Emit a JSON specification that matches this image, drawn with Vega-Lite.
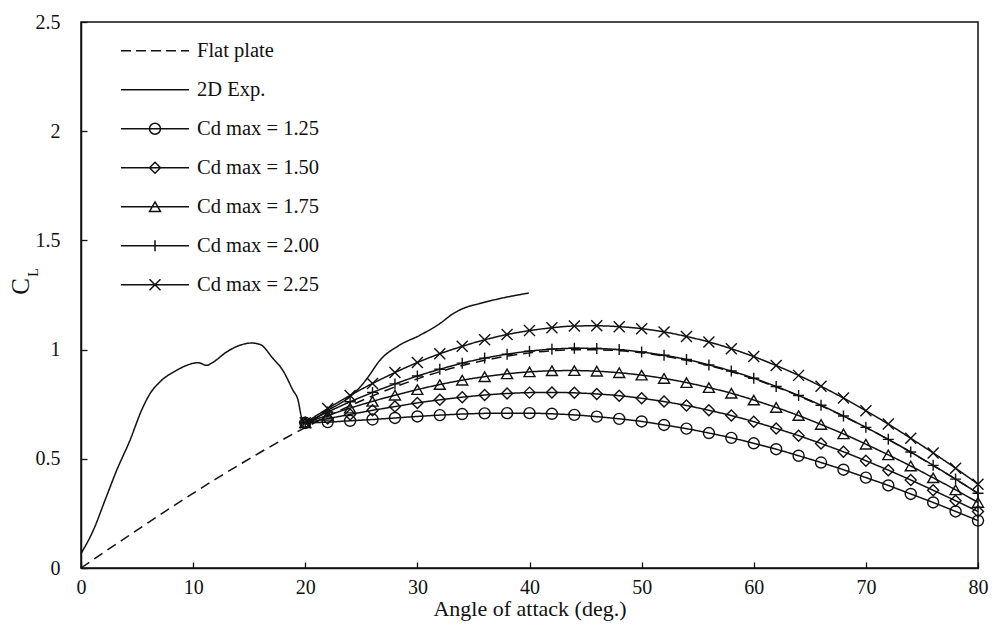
{
  "$schema": "https://vega.github.io/schema/vega-lite/v6.json",
  "width": 897,
  "height": 546,
  "autosize": {"type": "none"},
  "padding": {"left": 81, "top": 22, "right": 14, "bottom": 66},
  "background": "white",
  "config": {
    "font": "Liberation Serif",
    "view": {"stroke": "#111", "strokeWidth": 1.5},
    "axis": {
      "grid": false,
      "domainColor": "#111",
      "domainWidth": 1.5,
      "tickColor": "#111",
      "tickWidth": 1.3,
      "tickSize": -6,
      "labelFont": "Liberation Serif",
      "labelFontSize": 20,
      "labelColor": "#111",
      "titleFont": "Liberation Serif",
      "titleFontWeight": "normal",
      "titleColor": "#111"
    }
  },
  "datasets": {
    "curves": [
      {"series": "Flat plate", "aoa": 0, "cl": 0},
      {"series": "Flat plate", "aoa": 2, "cl": 0.07},
      {"series": "Flat plate", "aoa": 4, "cl": 0.139},
      {"series": "Flat plate", "aoa": 6, "cl": 0.208},
      {"series": "Flat plate", "aoa": 8, "cl": 0.276},
      {"series": "Flat plate", "aoa": 10, "cl": 0.342},
      {"series": "Flat plate", "aoa": 12, "cl": 0.407},
      {"series": "Flat plate", "aoa": 14, "cl": 0.469},
      {"series": "Flat plate", "aoa": 16, "cl": 0.53},
      {"series": "Flat plate", "aoa": 18, "cl": 0.588},
      {"series": "Flat plate", "aoa": 20, "cl": 0.643},
      {"series": "Flat plate", "aoa": 22, "cl": 0.695},
      {"series": "Flat plate", "aoa": 24, "cl": 0.743},
      {"series": "Flat plate", "aoa": 26, "cl": 0.788},
      {"series": "Flat plate", "aoa": 28, "cl": 0.829},
      {"series": "Flat plate", "aoa": 30, "cl": 0.866},
      {"series": "Flat plate", "aoa": 32, "cl": 0.899},
      {"series": "Flat plate", "aoa": 34, "cl": 0.927},
      {"series": "Flat plate", "aoa": 36, "cl": 0.951},
      {"series": "Flat plate", "aoa": 38, "cl": 0.97},
      {"series": "Flat plate", "aoa": 40, "cl": 0.985},
      {"series": "Flat plate", "aoa": 42, "cl": 0.995},
      {"series": "Flat plate", "aoa": 44, "cl": 0.999},
      {"series": "Flat plate", "aoa": 46, "cl": 0.999},
      {"series": "Flat plate", "aoa": 48, "cl": 0.995},
      {"series": "Flat plate", "aoa": 50, "cl": 0.985},
      {"series": "Flat plate", "aoa": 52, "cl": 0.97},
      {"series": "Flat plate", "aoa": 54, "cl": 0.951},
      {"series": "Flat plate", "aoa": 56, "cl": 0.927},
      {"series": "Flat plate", "aoa": 58, "cl": 0.899},
      {"series": "Flat plate", "aoa": 60, "cl": 0.866},
      {"series": "Flat plate", "aoa": 62, "cl": 0.829},
      {"series": "Flat plate", "aoa": 64, "cl": 0.788},
      {"series": "Flat plate", "aoa": 66, "cl": 0.743},
      {"series": "Flat plate", "aoa": 68, "cl": 0.695},
      {"series": "Flat plate", "aoa": 70, "cl": 0.643},
      {"series": "Flat plate", "aoa": 72, "cl": 0.588},
      {"series": "Flat plate", "aoa": 74, "cl": 0.53},
      {"series": "Flat plate", "aoa": 76, "cl": 0.469},
      {"series": "Flat plate", "aoa": 78, "cl": 0.407},
      {"series": "Flat plate", "aoa": 80, "cl": 0.342},

      {"series": "2D Exp.", "aoa": 0, "cl": 0.066},
      {"series": "2D Exp.", "aoa": 1.1, "cl": 0.173},
      {"series": "2D Exp.", "aoa": 2.14, "cl": 0.31},
      {"series": "2D Exp.", "aoa": 3.18, "cl": 0.447},
      {"series": "2D Exp.", "aoa": 4.37, "cl": 0.585},
      {"series": "2D Exp.", "aoa": 5.4, "cl": 0.722},
      {"series": "2D Exp.", "aoa": 6.15, "cl": 0.798},
      {"series": "2D Exp.", "aoa": 7.04, "cl": 0.852},
      {"series": "2D Exp.", "aoa": 8.52, "cl": 0.905},
      {"series": "2D Exp.", "aoa": 10.0, "cl": 0.937},
      {"series": "2D Exp.", "aoa": 10.45, "cl": 0.94},
      {"series": "2D Exp.", "aoa": 11.2, "cl": 0.928},
      {"series": "2D Exp.", "aoa": 11.8, "cl": 0.943},
      {"series": "2D Exp.", "aoa": 12.98, "cl": 0.989},
      {"series": "2D Exp.", "aoa": 14.17, "cl": 1.02},
      {"series": "2D Exp.", "aoa": 15.2, "cl": 1.03},
      {"series": "2D Exp.", "aoa": 15.95, "cl": 1.024},
      {"series": "2D Exp.", "aoa": 17.13, "cl": 0.959},
      {"series": "2D Exp.", "aoa": 18.0, "cl": 0.905},
      {"series": "2D Exp.", "aoa": 18.9, "cl": 0.814},
      {"series": "2D Exp.", "aoa": 19.36, "cl": 0.768},
      {"series": "2D Exp.", "aoa": 19.66, "cl": 0.691},
      {"series": "2D Exp.", "aoa": 19.85, "cl": 0.662},
      {"series": "2D Exp.", "aoa": 22, "cl": 0.722},
      {"series": "2D Exp.", "aoa": 24, "cl": 0.785},
      {"series": "2D Exp.", "aoa": 25.15, "cl": 0.844},
      {"series": "2D Exp.", "aoa": 25.6, "cl": 0.874},
      {"series": "2D Exp.", "aoa": 26.66, "cl": 0.951},
      {"series": "2D Exp.", "aoa": 28.4, "cl": 1.02},
      {"series": "2D Exp.", "aoa": 30.2, "cl": 1.065},
      {"series": "2D Exp.", "aoa": 32.0, "cl": 1.119},
      {"series": "2D Exp.", "aoa": 33.2, "cl": 1.165},
      {"series": "2D Exp.", "aoa": 34.06, "cl": 1.188},
      {"series": "2D Exp.", "aoa": 35.5, "cl": 1.21},
      {"series": "2D Exp.", "aoa": 37.3, "cl": 1.233},
      {"series": "2D Exp.", "aoa": 39.94, "cl": 1.259},

      {"series": "Cd max = 1.25", "aoa": 20, "cl": 0.665},
      {"series": "Cd max = 1.25", "aoa": 22, "cl": 0.668},
      {"series": "Cd max = 1.25", "aoa": 24, "cl": 0.674},
      {"series": "Cd max = 1.25", "aoa": 26, "cl": 0.68},
      {"series": "Cd max = 1.25", "aoa": 28, "cl": 0.687},
      {"series": "Cd max = 1.25", "aoa": 30, "cl": 0.694},
      {"series": "Cd max = 1.25", "aoa": 32, "cl": 0.7},
      {"series": "Cd max = 1.25", "aoa": 34, "cl": 0.705},
      {"series": "Cd max = 1.25", "aoa": 36, "cl": 0.708},
      {"series": "Cd max = 1.25", "aoa": 38, "cl": 0.709},
      {"series": "Cd max = 1.25", "aoa": 40, "cl": 0.709},
      {"series": "Cd max = 1.25", "aoa": 42, "cl": 0.706},
      {"series": "Cd max = 1.25", "aoa": 44, "cl": 0.701},
      {"series": "Cd max = 1.25", "aoa": 46, "cl": 0.693},
      {"series": "Cd max = 1.25", "aoa": 48, "cl": 0.683},
      {"series": "Cd max = 1.25", "aoa": 50, "cl": 0.671},
      {"series": "Cd max = 1.25", "aoa": 52, "cl": 0.655},
      {"series": "Cd max = 1.25", "aoa": 54, "cl": 0.638},
      {"series": "Cd max = 1.25", "aoa": 56, "cl": 0.618},
      {"series": "Cd max = 1.25", "aoa": 58, "cl": 0.596},
      {"series": "Cd max = 1.25", "aoa": 60, "cl": 0.571},
      {"series": "Cd max = 1.25", "aoa": 62, "cl": 0.544},
      {"series": "Cd max = 1.25", "aoa": 64, "cl": 0.514},
      {"series": "Cd max = 1.25", "aoa": 66, "cl": 0.483},
      {"series": "Cd max = 1.25", "aoa": 68, "cl": 0.45},
      {"series": "Cd max = 1.25", "aoa": 70, "cl": 0.414},
      {"series": "Cd max = 1.25", "aoa": 72, "cl": 0.378},
      {"series": "Cd max = 1.25", "aoa": 74, "cl": 0.339},
      {"series": "Cd max = 1.25", "aoa": 76, "cl": 0.3},
      {"series": "Cd max = 1.25", "aoa": 78, "cl": 0.259},
      {"series": "Cd max = 1.25", "aoa": 80, "cl": 0.217},

      {"series": "Cd max = 1.50", "aoa": 20, "cl": 0.665},
      {"series": "Cd max = 1.50", "aoa": 22, "cl": 0.684},
      {"series": "Cd max = 1.50", "aoa": 24, "cl": 0.703},
      {"series": "Cd max = 1.50", "aoa": 26, "cl": 0.722},
      {"series": "Cd max = 1.50", "aoa": 28, "cl": 0.739},
      {"series": "Cd max = 1.50", "aoa": 30, "cl": 0.756},
      {"series": "Cd max = 1.50", "aoa": 32, "cl": 0.77},
      {"series": "Cd max = 1.50", "aoa": 34, "cl": 0.782},
      {"series": "Cd max = 1.50", "aoa": 36, "cl": 0.792},
      {"series": "Cd max = 1.50", "aoa": 38, "cl": 0.799},
      {"series": "Cd max = 1.50", "aoa": 40, "cl": 0.803},
      {"series": "Cd max = 1.50", "aoa": 42, "cl": 0.804},
      {"series": "Cd max = 1.50", "aoa": 44, "cl": 0.802},
      {"series": "Cd max = 1.50", "aoa": 46, "cl": 0.797},
      {"series": "Cd max = 1.50", "aoa": 48, "cl": 0.789},
      {"series": "Cd max = 1.50", "aoa": 50, "cl": 0.777},
      {"series": "Cd max = 1.50", "aoa": 52, "cl": 0.762},
      {"series": "Cd max = 1.50", "aoa": 54, "cl": 0.744},
      {"series": "Cd max = 1.50", "aoa": 56, "cl": 0.722},
      {"series": "Cd max = 1.50", "aoa": 58, "cl": 0.698},
      {"series": "Cd max = 1.50", "aoa": 60, "cl": 0.67},
      {"series": "Cd max = 1.50", "aoa": 62, "cl": 0.639},
      {"series": "Cd max = 1.50", "aoa": 64, "cl": 0.606},
      {"series": "Cd max = 1.50", "aoa": 66, "cl": 0.57},
      {"series": "Cd max = 1.50", "aoa": 68, "cl": 0.532},
      {"series": "Cd max = 1.50", "aoa": 70, "cl": 0.491},
      {"series": "Cd max = 1.50", "aoa": 72, "cl": 0.448},
      {"series": "Cd max = 1.50", "aoa": 74, "cl": 0.403},
      {"series": "Cd max = 1.50", "aoa": 76, "cl": 0.356},
      {"series": "Cd max = 1.50", "aoa": 78, "cl": 0.308},
      {"series": "Cd max = 1.50", "aoa": 80, "cl": 0.259},

      {"series": "Cd max = 1.75", "aoa": 20, "cl": 0.665},
      {"series": "Cd max = 1.75", "aoa": 22, "cl": 0.699},
      {"series": "Cd max = 1.75", "aoa": 24, "cl": 0.732},
      {"series": "Cd max = 1.75", "aoa": 26, "cl": 0.763},
      {"series": "Cd max = 1.75", "aoa": 28, "cl": 0.791},
      {"series": "Cd max = 1.75", "aoa": 30, "cl": 0.817},
      {"series": "Cd max = 1.75", "aoa": 32, "cl": 0.84},
      {"series": "Cd max = 1.75", "aoa": 34, "cl": 0.86},
      {"series": "Cd max = 1.75", "aoa": 36, "cl": 0.876},
      {"series": "Cd max = 1.75", "aoa": 38, "cl": 0.889},
      {"series": "Cd max = 1.75", "aoa": 40, "cl": 0.898},
      {"series": "Cd max = 1.75", "aoa": 42, "cl": 0.903},
      {"series": "Cd max = 1.75", "aoa": 44, "cl": 0.904},
      {"series": "Cd max = 1.75", "aoa": 46, "cl": 0.901},
      {"series": "Cd max = 1.75", "aoa": 48, "cl": 0.894},
      {"series": "Cd max = 1.75", "aoa": 50, "cl": 0.883},
      {"series": "Cd max = 1.75", "aoa": 52, "cl": 0.868},
      {"series": "Cd max = 1.75", "aoa": 54, "cl": 0.849},
      {"series": "Cd max = 1.75", "aoa": 56, "cl": 0.826},
      {"series": "Cd max = 1.75", "aoa": 58, "cl": 0.8},
      {"series": "Cd max = 1.75", "aoa": 60, "cl": 0.769},
      {"series": "Cd max = 1.75", "aoa": 62, "cl": 0.735},
      {"series": "Cd max = 1.75", "aoa": 64, "cl": 0.698},
      {"series": "Cd max = 1.75", "aoa": 66, "cl": 0.657},
      {"series": "Cd max = 1.75", "aoa": 68, "cl": 0.614},
      {"series": "Cd max = 1.75", "aoa": 70, "cl": 0.567},
      {"series": "Cd max = 1.75", "aoa": 72, "cl": 0.518},
      {"series": "Cd max = 1.75", "aoa": 74, "cl": 0.467},
      {"series": "Cd max = 1.75", "aoa": 76, "cl": 0.413},
      {"series": "Cd max = 1.75", "aoa": 78, "cl": 0.358},
      {"series": "Cd max = 1.75", "aoa": 80, "cl": 0.3},

      {"series": "Cd max = 2.00", "aoa": 20, "cl": 0.665},
      {"series": "Cd max = 2.00", "aoa": 22, "cl": 0.714},
      {"series": "Cd max = 2.00", "aoa": 24, "cl": 0.761},
      {"series": "Cd max = 2.00", "aoa": 26, "cl": 0.804},
      {"series": "Cd max = 2.00", "aoa": 28, "cl": 0.843},
      {"series": "Cd max = 2.00", "aoa": 30, "cl": 0.879},
      {"series": "Cd max = 2.00", "aoa": 32, "cl": 0.91},
      {"series": "Cd max = 2.00", "aoa": 34, "cl": 0.938},
      {"series": "Cd max = 2.00", "aoa": 36, "cl": 0.961},
      {"series": "Cd max = 2.00", "aoa": 38, "cl": 0.979},
      {"series": "Cd max = 2.00", "aoa": 40, "cl": 0.993},
      {"series": "Cd max = 2.00", "aoa": 42, "cl": 1.002},
      {"series": "Cd max = 2.00", "aoa": 44, "cl": 1.006},
      {"series": "Cd max = 2.00", "aoa": 46, "cl": 1.005},
      {"series": "Cd max = 2.00", "aoa": 48, "cl": 1.0},
      {"series": "Cd max = 2.00", "aoa": 50, "cl": 0.989},
      {"series": "Cd max = 2.00", "aoa": 52, "cl": 0.974},
      {"series": "Cd max = 2.00", "aoa": 54, "cl": 0.955},
      {"series": "Cd max = 2.00", "aoa": 56, "cl": 0.93},
      {"series": "Cd max = 2.00", "aoa": 58, "cl": 0.902},
      {"series": "Cd max = 2.00", "aoa": 60, "cl": 0.869},
      {"series": "Cd max = 2.00", "aoa": 62, "cl": 0.831},
      {"series": "Cd max = 2.00", "aoa": 64, "cl": 0.79},
      {"series": "Cd max = 2.00", "aoa": 66, "cl": 0.745},
      {"series": "Cd max = 2.00", "aoa": 68, "cl": 0.696},
      {"series": "Cd max = 2.00", "aoa": 70, "cl": 0.644},
      {"series": "Cd max = 2.00", "aoa": 72, "cl": 0.589},
      {"series": "Cd max = 2.00", "aoa": 74, "cl": 0.531},
      {"series": "Cd max = 2.00", "aoa": 76, "cl": 0.47},
      {"series": "Cd max = 2.00", "aoa": 78, "cl": 0.407},
      {"series": "Cd max = 2.00", "aoa": 80, "cl": 0.342},

      {"series": "Cd max = 2.25", "aoa": 20, "cl": 0.665},
      {"series": "Cd max = 2.25", "aoa": 22, "cl": 0.73},
      {"series": "Cd max = 2.25", "aoa": 24, "cl": 0.79},
      {"series": "Cd max = 2.25", "aoa": 26, "cl": 0.845},
      {"series": "Cd max = 2.25", "aoa": 28, "cl": 0.895},
      {"series": "Cd max = 2.25", "aoa": 30, "cl": 0.941},
      {"series": "Cd max = 2.25", "aoa": 32, "cl": 0.981},
      {"series": "Cd max = 2.25", "aoa": 34, "cl": 1.015},
      {"series": "Cd max = 2.25", "aoa": 36, "cl": 1.045},
      {"series": "Cd max = 2.25", "aoa": 38, "cl": 1.069},
      {"series": "Cd max = 2.25", "aoa": 40, "cl": 1.087},
      {"series": "Cd max = 2.25", "aoa": 42, "cl": 1.1},
      {"series": "Cd max = 2.25", "aoa": 44, "cl": 1.108},
      {"series": "Cd max = 2.25", "aoa": 46, "cl": 1.109},
      {"series": "Cd max = 2.25", "aoa": 48, "cl": 1.105},
      {"series": "Cd max = 2.25", "aoa": 50, "cl": 1.096},
      {"series": "Cd max = 2.25", "aoa": 52, "cl": 1.081},
      {"series": "Cd max = 2.25", "aoa": 54, "cl": 1.06},
      {"series": "Cd max = 2.25", "aoa": 56, "cl": 1.035},
      {"series": "Cd max = 2.25", "aoa": 58, "cl": 1.004},
      {"series": "Cd max = 2.25", "aoa": 60, "cl": 0.968},
      {"series": "Cd max = 2.25", "aoa": 62, "cl": 0.927},
      {"series": "Cd max = 2.25", "aoa": 64, "cl": 0.882},
      {"series": "Cd max = 2.25", "aoa": 66, "cl": 0.832},
      {"series": "Cd max = 2.25", "aoa": 68, "cl": 0.778},
      {"series": "Cd max = 2.25", "aoa": 70, "cl": 0.72},
      {"series": "Cd max = 2.25", "aoa": 72, "cl": 0.659},
      {"series": "Cd max = 2.25", "aoa": 74, "cl": 0.594},
      {"series": "Cd max = 2.25", "aoa": 76, "cl": 0.527},
      {"series": "Cd max = 2.25", "aoa": 78, "cl": 0.457},
      {"series": "Cd max = 2.25", "aoa": 80, "cl": 0.384}
    ]
  },
  "data": {"name": "curves"},
  "layer": [
    {
      "mark": {"type": "line", "color": "#111", "strokeWidth": 1.5, "interpolate": "monotone"},
      "encoding": {
        "x": {
          "field": "aoa",
          "type": "quantitative",
          "scale": {"domain": [0, 80], "nice": false},
          "axis": {
            "values": [0, 10, 20, 30, 40, 50, 60, 70, 80],
            "format": "d",
            "labelFlush": false,
            "labelPadding": 15,
            "title": "Angle of attack (deg.)",
            "titleFontSize": 22,
            "titleY": 47,
            "titleBaseline": "alphabetic"
          }
        },
        "y": {
          "field": "cl",
          "type": "quantitative",
          "scale": {"domain": [0, 2.5], "nice": false},
          "axis": {
            "orient": "left",
            "values": [0, 0.5, 1, 1.5, 2, 2.5],
            "format": "~g",
            "labelPadding": 27,
            "title": "C",
            "titleFontSize": 25,
            "titleAngle": -90,
            "titleAlign": "center",
            "titleBaseline": "middle",
            "titleX": -61,
            "titleY": 264
          }
        },
        "strokeDash": {
          "field": "series",
          "type": "nominal",
          "scale": {
            "domain": ["Flat plate", "2D Exp.", "Cd max = 1.25", "Cd max = 1.50", "Cd max = 1.75", "Cd max = 2.00", "Cd max = 2.25"],
            "range": [[10, 6], [1, 0], [1, 0], [1, 0], [1, 0], [1, 0], [1, 0]]
          },
          "legend": null
        }
      }
    },
    {
      "transform": [{"filter": {"field": "series", "oneOf": ["Cd max = 1.25", "Cd max = 1.50", "Cd max = 1.75", "Cd max = 2.00", "Cd max = 2.25"]}}],
      "mark": {"type": "point", "filled": false, "color": "#111", "strokeWidth": 1.4, "size": 121, "opacity": 1},
      "encoding": {
        "x": {"field": "aoa", "type": "quantitative"},
        "y": {"field": "cl", "type": "quantitative", "axis": null},
        "shape": {
          "field": "series",
          "type": "nominal",
          "scale": {
            "domain": ["Cd max = 1.25", "Cd max = 1.50", "Cd max = 1.75", "Cd max = 2.00", "Cd max = 2.25"],
            "range": ["circle", "diamond", "triangle-up", "M-1,0L1,0M0,-1L0,1", "M-1,-1L1,1M-1,1L1,-1"]
          },
          "legend": null
        }
      }
    },
    {
      "transform": [{"filter": "false"}],
      "mark": {"type": "point", "filled": false, "color": "#111", "strokeWidth": 1.5, "opacity": 1},
      "encoding": {
        "x": {"field": "aoa", "type": "quantitative"},
        "y": {
          "field": "cl",
          "type": "quantitative",
          "axis": {
            "orient": "left",
            "domain": false,
            "ticks": false,
            "labels": false,
            "title": "L",
            "titleFontSize": 14,
            "titleAngle": -90,
            "titleAlign": "center",
            "titleBaseline": "middle",
            "titleX": -48,
            "titleY": 250
          }
        },
        "shape": {
          "field": "series",
          "type": "nominal",
          "scale": {
            "domain": ["Flat plate", "2D Exp.", "Cd max = 1.25", "Cd max = 1.50", "Cd max = 1.75", "Cd max = 2.00", "Cd max = 2.25"],
            "range": [
              "M-5.667,0L-4,0M-3.167,0L-1.5,0M-0.667,0L1,0M1.833,0L3.5,0M4.333,0L5.667,0",
              "M-5.667,0L5.667,0",
              "M-5.667,0L5.667,0M0.917,0C0.917,0.506,0.506,0.917,0,0.917C-0.506,0.917,-0.917,0.506,-0.917,0C-0.917,-0.506,-0.506,-0.917,0,-0.917C0.506,-0.917,0.917,-0.506,0.917,0Z",
              "M-5.667,0L5.667,0M-0.917,0L0,-0.917L0.917,0L0,0.917Z",
              "M-5.667,0L5.667,0M0,-0.8L0.917,0.8L-0.917,0.8Z",
              "M-5.667,0L5.667,0M0,-0.917L0,0.917",
              "M-5.667,0L5.667,0M-0.917,-0.917L0.917,0.917M-0.917,0.917L0.917,-0.917"
            ]
          },
          "legend": {
            "title": null,
            "orient": "none",
            "legendX": 63.75,
            "legendY": 18.5,
            "padding": 0,
            "symbolSize": 144,
            "symbolStrokeWidth": 1.5,
            "symbolStrokeColor": "#111",
            "symbolOffset": 0,
            "labelOffset": 31.75,
            "labelFont": "Liberation Serif",
            "labelFontSize": 20.5,
            "labelColor": "#111",
            "labelLimit": 300,
            "rowPadding": 18
          }
        }
      }
    }
  ],
  "resolve": {"scale": {"shape": "independent"}, "axis": {"y": "independent"}}
}
